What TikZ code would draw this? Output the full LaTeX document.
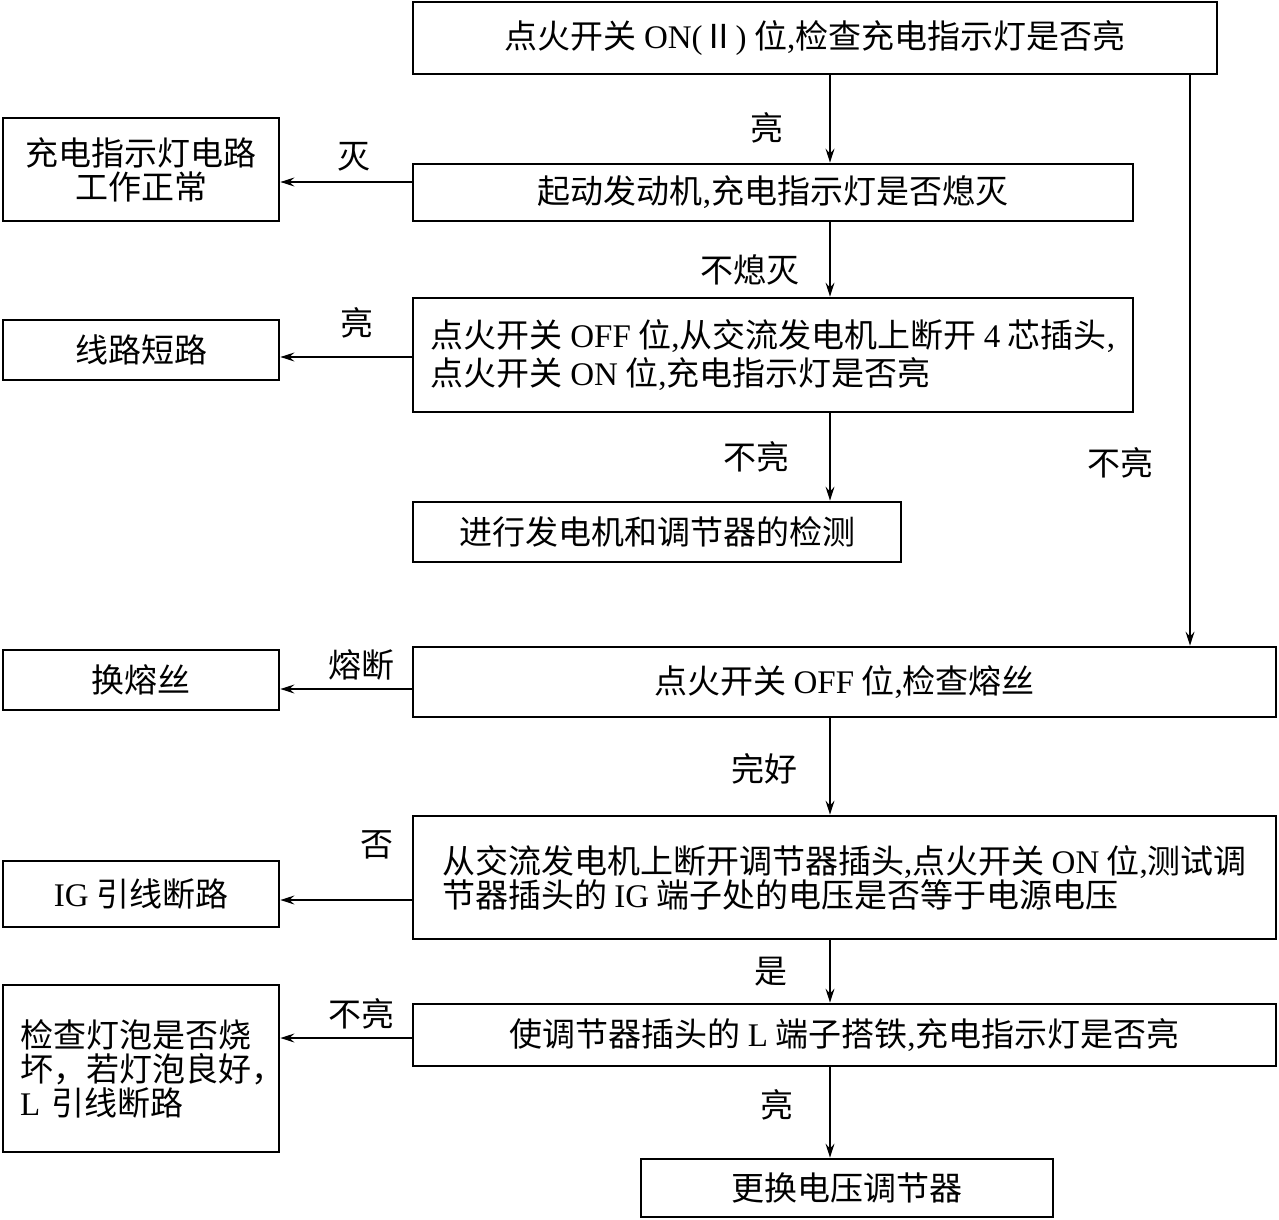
\documentclass[tikz,border=0pt]{standalone}
\usepackage{fontspec}
\setmainfont{Noto Sans CJK SC}
\newfontfamily\latin{Liberation Serif}
\usetikzlibrary{arrows.meta}
\newcommand\en[1]{{\latin #1}}
\newcommand\dou{{\latin ,}}

\begin{document}
\begin{tikzpicture}[x=0.5pt,y=-0.5pt,
    font=\fontsize{16.5}{17}\selectfont,
    box/.style={draw,line width=1.4pt,inner sep=0pt,align=center},
    lab/.style={inner sep=0pt},
    arr/.style={-{Stealth[length=7pt,width=4.5pt,inset=2.5pt]},line width=0.7pt}]
    \useasboundingbox (0,0) rectangle (1279,1220);

    % right column
    \node[box,minimum width=402pt,minimum height=36pt] (top) at (815,38)
        {点火开关 \en{ON(}Ⅱ\en{)} 位\dou 检查充电指示灯是否亮};
    \node[box,minimum width=360pt,minimum height=28.5pt] (start) at (773,192.5)
        {起动发动机\dou 充电指示灯是否熄灭};
    \node[box,minimum width=360pt,minimum height=57pt,align=left,
          font=\fontsize{16.5}{19}\selectfont] (plug) at (773,355)
        {点火开关 \en{OFF} 位\dou 从交流发电机上断开 \en{4} 芯插头\dou\\点火开关 \en{ON} 位\dou 充电指示灯是否亮};
    \node[box,minimum width=244pt,minimum height=30pt] (test) at (657,532)
        {进行发电机和调节器的检测};
    \node[box,minimum width=431.5pt,minimum height=35pt] (fuse) at (844.5,682)
        {点火开关 \en{OFF} 位\dou 检查熔丝};
    \node[box,minimum width=431.5pt,minimum height=61.5pt,align=left] (volt) at (844.5,877.5)
        {从交流发电机上断开调节器插头\dou 点火开关 \en{ON} 位\dou 测试调\\节器插头的 \en{IG} 端子处的电压是否等于电源电压};
    \node[box,minimum width=431.5pt,minimum height=31pt] (ground) at (844.5,1035)
        {使调节器插头的 \en{L} 端子搭铁\dou 充电指示灯是否亮};
    \node[box,minimum width=206pt,minimum height=29pt] (replace) at (847,1188)
        {更换电压调节器};

    % left column
    \node[box,minimum width=138pt,minimum height=51.5pt] (normal) at (141,169.5)
        {充电指示灯电路\\工作正常};
    \node[box,minimum width=138pt,minimum height=30pt] (short) at (141,350)
        {线路短路};
    \node[box,minimum width=138pt,minimum height=30pt] (newfuse) at (141,680)
        {换熔丝};
    \node[box,minimum width=138pt,minimum height=33pt] (igopen) at (141,894)
        {\en{IG} 引线断路};
    \node[box,minimum width=138pt,minimum height=83.5pt,align=left,text width=121pt] (bulb) at (141,1068.5)
        {检查灯泡是否烧\\坏，若灯泡良好，\\\en{L} 引线断路};

    \coordinate (mid) at (830,0);
    \coordinate (rt) at (1190,0);

    % downward arrows
    \draw[arr] (top.south -| mid) -- node[lab,pos=0.6,left=23pt] {亮} (start.north -| mid);
    \draw[arr] (start.south -| mid) -- node[lab,pos=0.64,left=15pt] {不熄灭} (plug.north -| mid);
    \draw[arr] (plug.south -| mid) -- node[lab,pos=0.5,left=20pt] {不亮} (test.north -| mid);
    \draw[arr] (top.south -| rt) -- node[lab,pos=0.68,left=18pt] {不亮} (fuse.north -| rt);
    \draw[arr] (fuse.south -| mid) -- node[lab,pos=0.52,left=16pt] {完好} (volt.north -| mid);
    \draw[arr] (volt.south -| mid) -- node[lab,pos=0.5,left=21pt] {是} (ground.north -| mid);
    \draw[arr] (ground.south -| mid) -- node[lab,pos=0.42,left=18pt] {亮} (replace.north -| mid);

    % leftward arrows
    \draw[arr] (start.west |- 0,182) -- node[lab,pos=0.44,above=5pt] {灭} (normal.east |- 0,182);
    \draw[arr] (plug.west |- 0,357) -- node[lab,pos=0.42,above=9pt] {亮} (short.east |- 0,357);
    \draw[arr] (fuse.west |- 0,689) -- node[lab,pos=0.38,above=4pt] {熔断} (newfuse.east |- 0,689);
    \draw[arr] (volt.west |- 0,900) -- node[lab,pos=0.26,above=20pt] {否} (igopen.east |- 0,900);
    \draw[arr] (ground.west |- 0,1038) -- node[lab,pos=0.38,above=4pt] {不亮} (bulb.east |- 0,1038);
\end{tikzpicture}
\end{document}
